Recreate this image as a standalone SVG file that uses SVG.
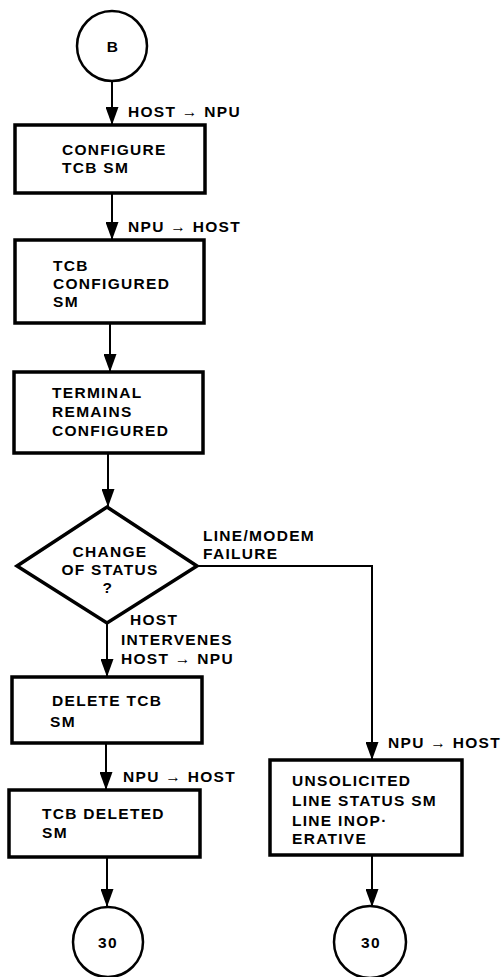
<svg xmlns="http://www.w3.org/2000/svg" width="503" height="977" viewBox="0 0 503 977">
<style>
.box{fill:#fff;stroke:#000;stroke-width:3.5}
.circ{fill:#fff;stroke:#000;stroke-width:2.5}
.t{font-family:"Liberation Sans",Arial,sans-serif;font-weight:bold;font-size:15.5px;letter-spacing:1.3px;fill:#000}
.c{text-anchor:middle}
.ln{fill:none;stroke:#000;stroke-width:2}
</style>
<defs>
<marker id="ah" markerUnits="userSpaceOnUse" markerWidth="18" markerHeight="13" viewBox="0 0 18 13" refX="18" refY="6.5" orient="auto">
<path d="M0,0 L18,6.5 L0,13 z" fill="#000"/>
</marker>
</defs>
<rect width="503" height="977" fill="#fff"/>
<g id="connectors">
<line class="ln" x1="112" y1="81" x2="112" y2="125" marker-end="url(#ah)"/>
<line class="ln" x1="112" y1="193" x2="112" y2="240" marker-end="url(#ah)"/>
<line class="ln" x1="110" y1="323" x2="110" y2="372" marker-end="url(#ah)"/>
<line class="ln" x1="108" y1="453" x2="108" y2="507" marker-end="url(#ah)"/>
<line class="ln" x1="107" y1="623" x2="107" y2="677" marker-end="url(#ah)"/>
<line class="ln" x1="106" y1="743" x2="106" y2="790" marker-end="url(#ah)"/>
<line class="ln" x1="107" y1="857" x2="107" y2="907" marker-end="url(#ah)"/>
<polyline class="ln" points="197,566 372,566 372,760" marker-end="url(#ah)"/>
<line class="ln" x1="372" y1="855" x2="372" y2="907" marker-end="url(#ah)"/>
<text class="t" x="128" y="117">HOST → NPU</text>
<text class="t" x="128" y="232">NPU → HOST</text>
<text class="t" x="203" y="541">LINE/MODEM</text>
<text class="t" x="203" y="559">FAILURE</text>
<text class="t" x="130" y="625">HOST</text>
<text class="t" x="121" y="645">INTERVENES</text>
<text class="t" x="121" y="664">HOST → NPU</text>
<text class="t" x="123" y="782">NPU → HOST</text>
<text class="t" x="388" y="748">NPU → HOST</text>
</g>
<g id="startB">
<circle class="circ" cx="112" cy="46" r="35"/>
<text class="t c" x="113" y="52">B</text>
</g>
<g id="configure">
<rect class="box" x="15" y="125" width="190" height="68"/>
<text class="t" x="62" y="155">CONFIGURE</text>
<text class="t" x="62" y="173">TCB SM</text>
</g>
<g id="configured">
<rect class="box" x="15" y="240" width="189" height="83"/>
<text class="t" x="53" y="271">TCB</text>
<text class="t" x="53" y="289">CONFIGURED</text>
<text class="t" x="53" y="307">SM</text>
</g>
<g id="remains">
<rect class="box" x="14" y="372" width="189" height="81"/>
<text class="t" x="52" y="398">TERMINAL</text>
<text class="t" x="52" y="417">REMAINS</text>
<text class="t" x="52" y="436">CONFIGURED</text>
</g>
<g id="decision">
<polygon class="box" points="107,507 197,566 107,623 17,566"/>
<text class="t c" x="110" y="557">CHANGE</text>
<text class="t c" x="110" y="575">OF STATUS</text>
<text class="t c" x="108" y="593">?</text>
</g>
<g id="delete">
<rect class="box" x="12" y="677" width="190" height="66"/>
<text class="t" x="52" y="706">DELETE TCB</text>
<text class="t" x="50" y="727">SM</text>
</g>
<g id="deleted">
<rect class="box" x="9" y="790" width="191" height="67"/>
<text class="t" x="42" y="819">TCB DELETED</text>
<text class="t" x="42" y="838">SM</text>
</g>
<g id="unsolicited">
<rect class="box" x="270" y="760" width="192" height="95"/>
<text class="t" x="292" y="786">UNSOLICITED</text>
<text class="t" x="292" y="806">LINE STATUS SM</text>
<text class="t" x="292" y="826">LINE INOP·</text>
<text class="t" x="292" y="844">ERATIVE</text>
</g>
<g id="end30a">
<circle class="circ" cx="108" cy="942" r="35"/>
<text class="t c" x="108" y="948">30</text>
</g>
<g id="end30b">
<circle class="circ" cx="370" cy="942" r="36"/>
<text class="t c" x="371" y="948">30</text>
</g>
</svg>
